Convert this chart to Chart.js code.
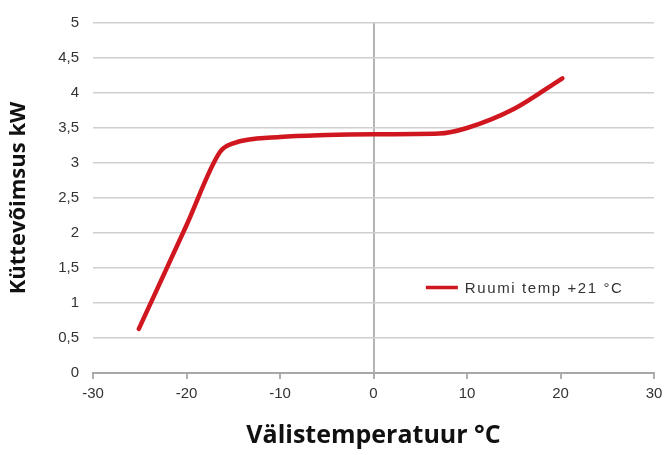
<!DOCTYPE html>
<html>
<head>
<meta charset="utf-8">
<script src="https://cdn.jsdelivr.net/npm/chart.js@4.4.1/dist/chart.umd.min.js"></script>
<style>
  html, body { margin: 0; padding: 0; background: #fff; }
  #wrap { width: 665px; height: 455px; }
</style>
</head>
<body>
<div id="wrap"><canvas id="myChart" width="665" height="455"></canvas></div>
<script>
// outdoor temperature (°C) and heating power (kW)
const outdoorTemp = [-25.1, -20, -16.4, -15, -10, -5, 0, 7, 10, 15, 20.2];
const heatPower = [0.63, 2.11, 3.16, 3.28, 3.37, 3.40, 3.41, 3.42, 3.50, 3.77, 4.21];
const seriesLabel = 'Ruumi temp +21 °C';
const xTitle = 'Välistemperatuur °C';
const yTitle = 'Küttevõimsus kW';

const points = outdoorTemp.map((t, i) => ({ x: t, y: heatPower[i] }));

const labelFont = { family: 'Liberation Sans Narrow, Liberation Sans, Arial', size: 15 };

// draws the legend inside the plot area, to the right like the original
const insideLegend = {
  id: 'insideLegend',
  afterDraw(chart) {
    const ctx = chart.ctx;
    const xs = chart.scales.x;
    const ys = chart.scales.y;
    const x0 = xs.getPixelForValue(5.6);
    const y0 = ys.getPixelForValue(1.22);
    ctx.save();
    ctx.strokeStyle = '#d0161f';
    ctx.lineWidth = 3.5;
    ctx.beginPath();
    ctx.moveTo(x0, y0);
    ctx.lineTo(x0 + 32, y0);
    ctx.stroke();
    ctx.fillStyle = '#333';
    ctx.font = '15px "Liberation Sans Narrow", "Liberation Sans", Arial';
    ctx.letterSpacing = '1.6px';
    ctx.textBaseline = 'middle';
    ctx.fillText(seriesLabel, x0 + 39, y0 + 1);
    ctx.restore();
  }
};

new Chart(document.getElementById('myChart'), {
  type: 'scatter',
  data: {
    datasets: [{
      label: seriesLabel,
      data: points,
      showLine: true,
      borderColor: '#d0161f',
      borderWidth: 4.5,
      borderCapStyle: 'round',
      pointRadius: 0,
      cubicInterpolationMode: 'monotone'
    }]
  },
  options: {
    responsive: false,
    animation: false,
    layout: { padding: { top: 23, right: 11, left: 6, bottom: 0 } },
    plugins: {
      legend: { display: false },
      tooltip: { enabled: false }
    },
    scales: {
      x: {
        type: 'linear',
        min: -30,
        max: 30,
        ticks: { stepSize: 10, color: '#333', font: labelFont, padding: 6 },
        grid: {
          color: (c) => (c.tick && c.tick.value === 0 ? '#b4b4b4' : 'transparent'),
          lineWidth: 2,
          tickColor: '#b0b0b0',
          tickLength: 6
        },
        border: { display: true, color: '#a8a8a8', width: 2 },
        title: {
          display: true, text: xTitle, color: '#111',
          font: { family: 'Liberation Sans Narrow, Open Sans, Liberation Sans', size: 25, weight: 'bold' },
          padding: { top: 13 }
        },
        afterFit(scale) {
          scale.height = 82;
          scale.paddingRight = 0;
        }
      },
      y: {
        min: 0,
        max: 5,
        ticks: {
          stepSize: 0.5,
          color: '#333',
          font: labelFont,
          padding: 14,
          callback: (v) => String(v).replace('.', ',')
        },
        grid: { color: '#cfcfcf', lineWidth: 1.5, drawTicks: false },
        border: { display: false },
        title: {
          display: true, text: yTitle, color: '#111',
          font: { family: 'Liberation Sans Narrow, Open Sans, Liberation Sans', size: 22, weight: 'bold' },
          padding: 0
        },
        afterFit(scale) { scale.width = 87; }
      }
    }
  },
  plugins: [insideLegend]
});
</script>
</body>
</html>
